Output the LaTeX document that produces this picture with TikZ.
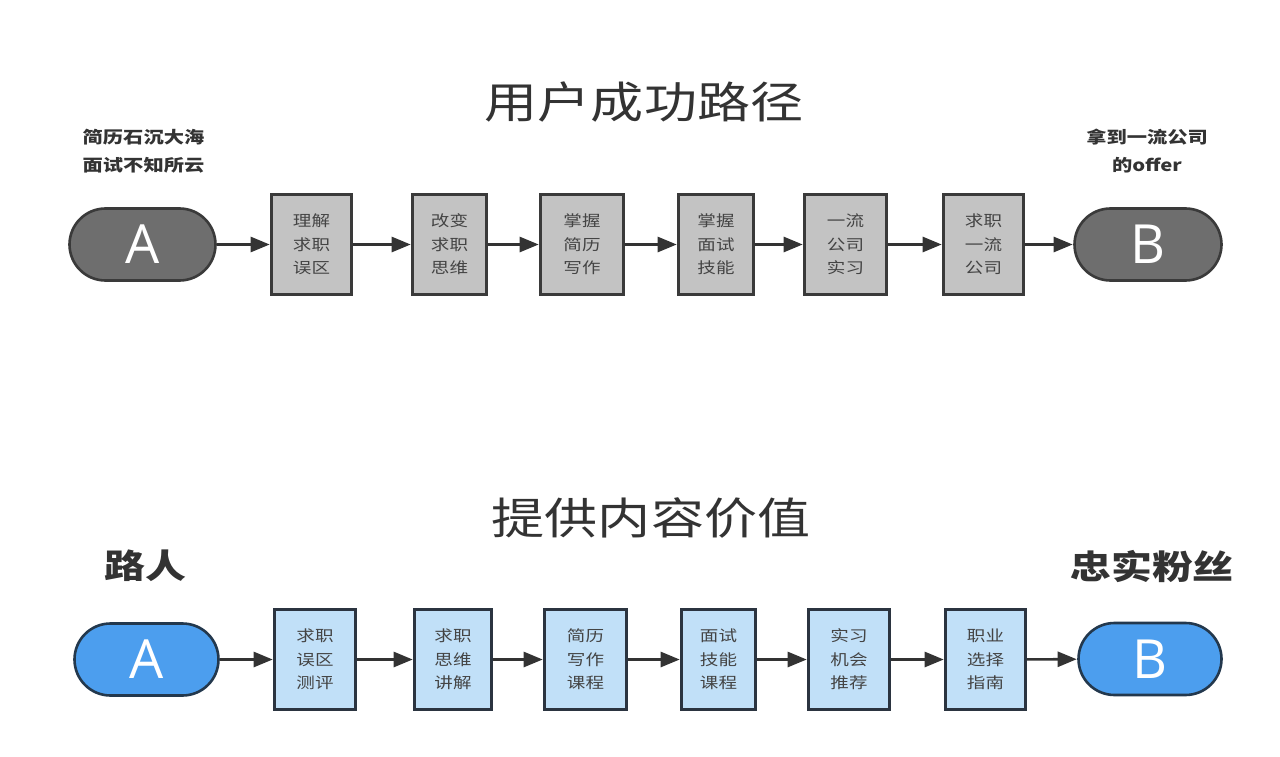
\documentclass[tikz,border=0pt]{standalone}
\usepackage{fontspec}
\usetikzlibrary{arrows.meta}
\newfontfamily\cjk[FakeStretch=1.22]{Noto Sans CJK SC}
\newfontfamily\latn{Open Sans}
\definecolor{txt}{HTML}{333333}
\definecolor{boxtxt}{HTML}{444444}
\definecolor{pillgray}{HTML}{6E6E6E}
\definecolor{pillgrayb}{HTML}{3A3A3A}
\definecolor{boxgray}{HTML}{C3C3C3}
\definecolor{pillblue}{HTML}{4C9EEE}
\definecolor{pillblueb}{HTML}{23384D}
\definecolor{boxblue}{HTML}{C1E0F8}
\definecolor{boxblueb}{HTML}{2B3440}
\tikzset{
  pill/.style={rectangle, rounded corners=36pt, minimum width=#1, minimum height=72pt, inner sep=0pt, line width=2.6pt, text=white, font=\latn\fontsize{54}{54}\selectfont},
  graypill/.style={pill=#1, fill=pillgray, draw=pillgrayb},
  bluepill/.style={pill=#1, fill=pillblue, draw=pillblueb},
  stepbox/.style={rectangle, minimum width=#1, minimum height=100pt, inner sep=0pt, line width=2.6pt, text=boxtxt, align=center, font=\cjk\fontsize{15.2}{23.5}\selectfont},
  graybox/.style={stepbox=#1, fill=boxgray, draw=pillgrayb},
  bluebox/.style={stepbox=#1, fill=boxblue, draw=boxblueb},
  arr/.style={line width=2.6pt, draw=txt, -{Triangle[length=19pt,width=15pt]}, shorten >=0.5pt},
  title/.style={text=txt, font=\cjk\fontsize{43.5}{43.5}\selectfont, inner sep=0pt},
  small/.style={text=txt, align=center, font=\cjk\bfseries\fontsize{16.6}{28}\selectfont, inner sep=0pt},
  big/.style={text=txt, font=\cjk\bfseries\fontsize{33.5}{33.5}\selectfont, inner sep=0pt}
}
\begin{document}
\begin{tikzpicture}[x=1pt,y=-1pt]
\useasboundingbox (0,0) rectangle (1280,757);
\fill[white] (0,0) rectangle (1280,757);
% top row
\node[title] (title1) at (644,102) {用户成功路径};
\node[small] (la1) at (143.5,151) {简历石沉大海\\面试不知所云};
\node[small] (lb1) at (1147,151) {拿到一流公司\\的offer};
\node[graypill=146pt] (a1) at (142.5,244.5) {A};
\node[graybox=80pt] (s1) at (311.5,244.5) {理解\\求职\\误区};
\node[graybox=74pt] (s2) at (449.5,244.5) {改变\\求职\\思维};
\node[graybox=83pt] (s3) at (582,244.5) {掌握\\简历\\写作};
\node[graybox=75pt] (s4) at (716,244.5) {掌握\\面试\\技能};
\node[graybox=82pt] (s5) at (845.5,244.5) {一流\\公司\\实习};
\node[graybox=80pt] (s6) at (983.5,244.5) {求职\\一流\\公司};
\node[graypill=147pt] (b1) at (1148,244.5) {B};
\foreach \u/\v in {a1/s1,s1/s2,s2/s3,s3/s4,s4/s5,s5/s6,s6/b1}
  \draw[arr] (\u) -- (\v);
% bottom row
\node[title] (title2) at (651,518) {提供内容价值};
\node[big] (la2) at (145,566) {路人};
\node[big] (lb2) at (1152,566) {忠实粉丝};
\node[bluepill=144pt] (a2) at (146.5,659.5) {A};
\node[bluebox=81pt] (t1) at (315,659.5) {求职\\误区\\测评};
\node[bluebox=77pt] (t2) at (453,659.5) {求职\\思维\\讲解};
\node[bluebox=82pt] (t3) at (585.5,659.5) {简历\\写作\\课程};
\node[bluebox=74pt] (t4) at (718.5,659.5) {面试\\技能\\课程};
\node[bluebox=81pt] (t5) at (849,659.5) {实习\\机会\\推荐};
\node[bluebox=80pt] (t6) at (985.5,659.5) {职业\\选择\\指南};
\node[bluepill=143pt] (b2) at (1150,659) {B};
\foreach \u/\v in {a2/t1,t1/t2,t2/t3,t3/t4,t4/t5,t5/t6,t6/b2}
  \draw[arr] (\u) -- (\v);
\end{tikzpicture}
\end{document}
